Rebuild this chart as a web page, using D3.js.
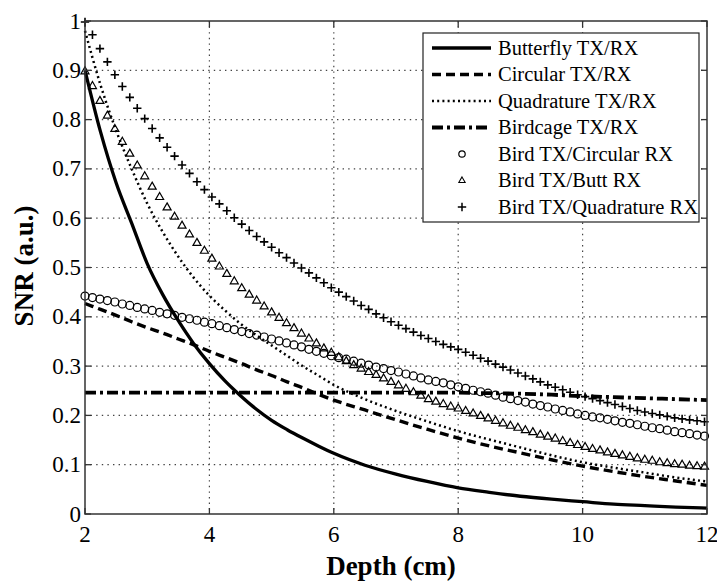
<!DOCTYPE html>
<html><head><meta charset="utf-8">
<script src="https://cdn.jsdelivr.net/npm/d3@7/dist/d3.min.js"></script>
<style>
html,body{margin:0;padding:0;background:#fff;}
svg{display:block;}
text{font-family:"Liberation Serif","Times New Roman",serif;fill:#000;}
</style></head>
<body>
<svg id="chart" width="717" height="581"></svg>
<script>
// ---------- data ----------
const xTicks = [2, 4, 6, 8, 10, 12];
const yTicks = [0, 0.1, 0.2, 0.3, 0.4, 0.5, 0.6, 0.7, 0.8, 0.9, 1];
const yTickLabels = ["0", "0.1", "0.2", "0.3", "0.4", "0.5", "0.6", "0.7", "0.8", "0.9", "1"];

const seriesNames = ["Butterfly TX/RX", "Circular TX/RX", "Quadrature TX/RX", "Birdcage TX/RX",
  "Bird TX/Circular RX", "Bird TX/Butt RX", "Bird TX/Quadrature RX"];

// depths (cm) for the line series
const lineDepth = [2, 2.25, 2.5, 2.75, 3, 3.25, 3.5, 3.75, 4, 4.25, 4.5, 4.75, 5, 5.25, 5.5, 5.75, 6,
  6.5, 7, 7.5, 8, 8.5, 9, 9.5, 10, 10.5, 11, 11.5, 12];
const butterfly = [0.900, 0.775, 0.672, 0.590, 0.508, 0.445, 0.392, 0.345, 0.305, 0.270, 0.240, 0.213, 0.190,
  0.171, 0.154, 0.138, 0.123, 0.099, 0.081, 0.066, 0.053, 0.044, 0.036, 0.030, 0.025, 0.020, 0.017, 0.014, 0.012];
const circular = [0.427, 0.415, 0.403, 0.390, 0.378, 0.367, 0.355, 0.343, 0.330, 0.318, 0.306, 0.293, 0.281,
  0.268, 0.256, 0.243, 0.231, 0.211, 0.191, 0.172, 0.154, 0.138, 0.124, 0.110, 0.097, 0.086, 0.076, 0.067, 0.058];
const quadrature = [0.980, 0.870, 0.778, 0.700, 0.630, 0.572, 0.522, 0.479, 0.443, 0.413, 0.386, 0.363, 0.342,
  0.321, 0.300, 0.281, 0.262, 0.233, 0.209, 0.188, 0.168, 0.151, 0.135, 0.119, 0.105, 0.094, 0.084, 0.074, 0.066];
const birdcage = [0.246, 0.246, 0.246, 0.246, 0.246, 0.246, 0.246, 0.246, 0.246, 0.246, 0.246, 0.246, 0.246,
  0.246, 0.246, 0.246, 0.246, 0.246, 0.246, 0.246, 0.246, 0.245, 0.244, 0.242, 0.239, 0.237, 0.235, 0.233, 0.231];

// depths (cm) for the marker series
const markerDepth = [2.00, 2.12, 2.24, 2.36, 2.48, 2.60, 2.72, 2.84, 2.96, 3.08, 3.20, 3.32, 3.44, 3.56, 3.68, 3.80,
  3.92, 4.04, 4.16, 4.28, 4.40, 4.52, 4.64, 4.76, 4.88, 5.00, 5.12, 5.24, 5.36, 5.48, 5.60, 5.72, 5.84, 5.96,
  6.08, 6.20, 6.32, 6.44, 6.56, 6.68, 6.80, 6.92, 7.04, 7.16, 7.28, 7.40, 7.52, 7.64, 7.76, 7.88, 8.00, 8.12,
  8.24, 8.36, 8.48, 8.60, 8.72, 8.84, 8.96, 9.08, 9.20, 9.32, 9.44, 9.56, 9.68, 9.80, 9.92, 10.04, 10.16, 10.28,
  10.40, 10.52, 10.64, 10.76, 10.88, 11.00, 11.12, 11.24, 11.36, 11.48, 11.60, 11.72, 11.84, 11.96];
const birdCircular = [0.442, 0.439, 0.436, 0.433, 0.430, 0.426, 0.423, 0.419, 0.416, 0.413, 0.409, 0.406, 0.403,
  0.399, 0.396, 0.393, 0.389, 0.386, 0.382, 0.378, 0.374, 0.370, 0.366, 0.363, 0.359, 0.355, 0.351, 0.347, 0.343,
  0.339, 0.334, 0.330, 0.326, 0.321, 0.317, 0.314, 0.310, 0.306, 0.302, 0.298, 0.295, 0.291, 0.288, 0.284, 0.280,
  0.276, 0.272, 0.269, 0.266, 0.262, 0.258, 0.255, 0.251, 0.248, 0.245, 0.241, 0.237, 0.234, 0.230, 0.227, 0.223,
  0.220, 0.217, 0.213, 0.210, 0.207, 0.203, 0.200, 0.197, 0.195, 0.192, 0.189, 0.186, 0.184, 0.181, 0.178, 0.175,
  0.173, 0.170, 0.167, 0.165, 0.163, 0.160, 0.158];
const birdButt = [0.898, 0.868, 0.838, 0.808, 0.781, 0.755, 0.731, 0.707, 0.685, 0.664, 0.643, 0.622, 0.603,
  0.585, 0.567, 0.550, 0.534, 0.518, 0.502, 0.487, 0.472, 0.458, 0.445, 0.433, 0.421, 0.409, 0.398, 0.387, 0.377,
  0.366, 0.356, 0.346, 0.336, 0.327, 0.318, 0.310, 0.302, 0.295, 0.288, 0.282, 0.275, 0.268, 0.261, 0.254, 0.247,
  0.240, 0.233, 0.228, 0.223, 0.218, 0.214, 0.209, 0.204, 0.199, 0.194, 0.189, 0.184, 0.179, 0.175, 0.170, 0.166,
  0.161, 0.157, 0.153, 0.148, 0.144, 0.140, 0.136, 0.132, 0.129, 0.125, 0.122, 0.119, 0.116, 0.113, 0.110, 0.108,
  0.105, 0.103, 0.101, 0.100, 0.098, 0.097, 0.096];
const birdQuad = [0.998, 0.972, 0.944, 0.917, 0.891, 0.867, 0.845, 0.823, 0.802, 0.782, 0.763, 0.744, 0.726,
  0.708, 0.691, 0.674, 0.658, 0.643, 0.629, 0.615, 0.601, 0.588, 0.575, 0.563, 0.552, 0.541, 0.530, 0.520, 0.509,
  0.499, 0.489, 0.479, 0.469, 0.459, 0.450, 0.441, 0.432, 0.423, 0.415, 0.406, 0.398, 0.390, 0.383, 0.376, 0.369,
  0.362, 0.356, 0.350, 0.344, 0.339, 0.334, 0.328, 0.322, 0.316, 0.310, 0.304, 0.298, 0.292, 0.286, 0.280, 0.274,
  0.268, 0.262, 0.257, 0.252, 0.247, 0.242, 0.238, 0.234, 0.230, 0.226, 0.222, 0.218, 0.214, 0.210, 0.207, 0.204,
  0.201, 0.198, 0.195, 0.193, 0.191, 0.189, 0.187];

// ---------- layout ----------
const svg = d3.select("#chart");
const L = 85, R = 707, T = 21, B = 514;
const x = d3.scaleLinear().domain([2, 12]).range([L, R]);
const y = d3.scaleLinear().domain([0, 1]).range([B, T]);

// grid
const grid = svg.append("g").attr("stroke", "#444").attr("stroke-width", 1.2).attr("stroke-dasharray", "1.4,4.2");
grid.selectAll(".vg").data(xTicks.slice(1, -1)).enter().append("line")
  .attr("x1", d => x(d)).attr("x2", d => x(d)).attr("y1", T).attr("y2", B);
grid.selectAll(".hg").data(yTicks.slice(1, -1)).enter().append("line")
  .attr("x1", L).attr("x2", R).attr("y1", d => y(d)).attr("y2", d => y(d));

// lines
const lineGen = vals => d3.line().x((d, i) => x(lineDepth[i])).y(d => y(d)).curve(d3.curveMonotoneX)(vals);
const lineStyles = [
  {vals: butterfly, w: 3.3, dash: null},
  {vals: circular, w: 3.4, dash: "9,5"},
  {vals: quadrature, w: 2.5, dash: "2,3.2"},
  {vals: birdcage, w: 3.8, dash: "11,4,3,4"}
];
lineStyles.forEach(s => {
  svg.append("path").attr("d", lineGen(s.vals)).attr("fill", "none").attr("stroke", "#000")
    .attr("stroke-width", s.w).attr("stroke-dasharray", s.dash);
});

// markers
const triPath = "M0,-4.5L4,2.5L-4,2.5Z";
const plusPath = "M-4.2,0H4.2M0,-4.2V4.2";
const mk = svg.append("g").attr("fill", "none").attr("stroke", "#000");
mk.selectAll(".c").data(birdCircular).enter().append("circle")
  .attr("cx", (d, i) => x(markerDepth[i])).attr("cy", d => y(d)).attr("r", 4).attr("stroke-width", 1.2);
mk.selectAll(".t").data(birdButt).enter().append("path").attr("d", triPath)
  .attr("transform", (d, i) => `translate(${x(markerDepth[i])},${y(d)})`).attr("stroke-width", 1.2);
mk.selectAll(".p").data(birdQuad).enter().append("path").attr("d", plusPath)
  .attr("transform", (d, i) => `translate(${x(markerDepth[i])},${y(d)})`).attr("stroke-width", 1.6);

// frame and ticks
svg.append("rect").attr("x", L).attr("y", T).attr("width", R - L).attr("height", B - T)
  .attr("fill", "none").attr("stroke", "#333").attr("stroke-width", 1.5);
const tk = svg.append("g").attr("stroke", "#333").attr("stroke-width", 1.3);
const tl = 6;
xTicks.forEach(v => {
  tk.append("line").attr("x1", x(v)).attr("x2", x(v)).attr("y1", B).attr("y2", B - tl);
  tk.append("line").attr("x1", x(v)).attr("x2", x(v)).attr("y1", T).attr("y2", T + tl);
});
yTicks.forEach(v => {
  tk.append("line").attr("x1", L).attr("x2", L + tl).attr("y1", y(v)).attr("y2", y(v));
  tk.append("line").attr("x1", R).attr("x2", R - tl).attr("y1", y(v)).attr("y2", y(v));
});

// tick labels
svg.append("g").selectAll("text").data(xTicks).enter().append("text")
  .attr("x", d => x(d)).attr("y", 542).attr("text-anchor", "middle").attr("font-size", 23).text(d => d);
svg.append("g").selectAll("text").data(yTicks).enter().append("text")
  .attr("x", 81).attr("y", d => y(d)).attr("dy", "0.33em").attr("text-anchor", "end").attr("font-size", 23)
  .text((d, i) => yTickLabels[i]);

// axis titles
svg.append("text").attr("x", 391).attr("y", 575).attr("text-anchor", "middle")
  .attr("font-size", 27).attr("font-weight", "bold").text("Depth (cm)");
svg.append("text").attr("transform", "translate(33,266) rotate(-90)").attr("text-anchor", "middle")
  .attr("font-size", 27).attr("font-weight", "bold").text("SNR (a.u.)");

// legend
const lg = svg.append("g");
lg.append("rect").attr("x", 423).attr("y", 33).attr("width", 276).attr("height", 189)
  .attr("fill", "#fff").attr("stroke", "#222").attr("stroke-width", 1.2);
const rowY = i => 48 + i * 26.5;
lineStyles.forEach((s, i) => {
  lg.append("line").attr("x1", 432).attr("x2", 491).attr("y1", rowY(i)).attr("y2", rowY(i))
    .attr("stroke", "#000").attr("stroke-width", s.w).attr("stroke-dasharray", s.dash);
});
lg.append("circle").attr("cx", 462).attr("cy", rowY(4)).attr("r", 3.2).attr("fill", "none").attr("stroke", "#000").attr("stroke-width", 1.2);
lg.append("path").attr("d", triPath).attr("transform", `translate(462,${rowY(5)}) scale(0.8)`)
  .attr("fill", "none").attr("stroke", "#000").attr("stroke-width", 1.3);
lg.append("path").attr("d", plusPath).attr("transform", `translate(462,${rowY(6)})`)
  .attr("fill", "none").attr("stroke", "#000").attr("stroke-width", 1.5);
lg.selectAll(".lt").data(seriesNames).enter().append("text")
  .attr("x", 498).attr("y", (d, i) => rowY(i)).attr("dy", "0.33em").attr("font-size", 20.5).text(d => d);
</script>
</body></html>
